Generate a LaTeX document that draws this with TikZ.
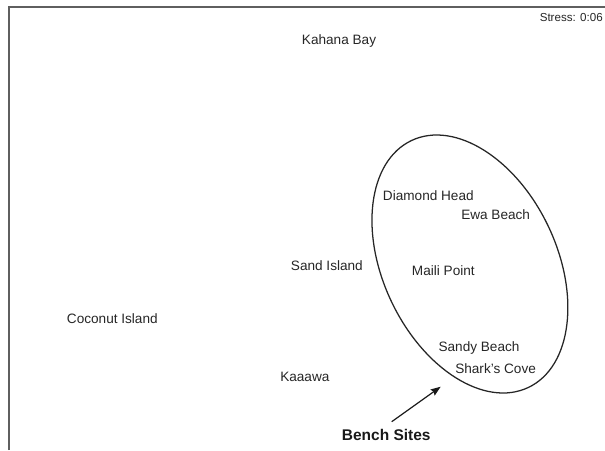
\documentclass[tikz,border=0pt]{standalone}
\usepackage{fontspec}
\setmainfont{Liberation Sans}
\usetikzlibrary{arrows.meta}
\definecolor{framegray}{RGB}{95,95,95}
\begin{document}
\begin{tikzpicture}[x=0.75pt,y=0.75pt,
  site/.style={anchor=base west,inner sep=0pt,font=\fontsize{10.2pt}{12pt}\selectfont,text=black!85},
  framestyle/.style={draw=framegray,line width=1.5pt},
  ringstyle/.style={draw=black!85,line width=0.95pt}]
\useasboundingbox (0,0) rectangle (605,-450);
% frame (top and left only)
\coordinate (fl) at (8.5,-450);
\coordinate (fc) at (8.5,-6.5);
\coordinate (fr) at (605,-6.5);
\draw[framestyle] (fl) -- (fc) -- (fr);
% stress label
\node[anchor=base east,inner sep=0pt,font=\fontsize{8.7pt}{10pt}\selectfont,text=black!85] (stress) at (603,-21.5) {Stress: 0:06};
% site labels
\node[site] (kahana) at (301.7,-44.3) {Kahana Bay};
\node[site] (coconut) at (66.7,-323) {Coconut Island};
\node[site] (sand) at (290.7,-270.7) {Sand Island};
\node[site] (maili) at (411.7,-275) {Maili Point};
\node[site] (kaaawa) at (280,-381.7) {Kaaawa};
\node[site] (diamond) at (382.7,-200) {Diamond Head};
\node[site] (ewa) at (461,-219.3) {Ewa Beach};
\node[site] (sandy) at (438.3,-351.7) {Sandy Beach};
\node[site] (shark) at (455,-373.3) {Shark’s Cove};
% ellipse around bench sites
\draw[ringstyle,shift={(469.9,-264)},rotate=-64.7] (0,0) ellipse [x radius=136.6, y radius=87];
% bench sites label and arrow
\node[anchor=base west,inner sep=0pt,font=\fontsize{11.6pt}{14pt}\selectfont\bfseries,text=black!90] (bench) at (341.7,-440) {Bench Sites};
\coordinate (tail) at (391.7,-421.7);
\coordinate (tip) at (440.7,-386.7);
\draw[black!90,line width=0.9pt,-{Stealth[length=7.5pt,width=5.5pt,inset=1pt]}] (tail) -- (tip);
\end{tikzpicture}
\end{document}
